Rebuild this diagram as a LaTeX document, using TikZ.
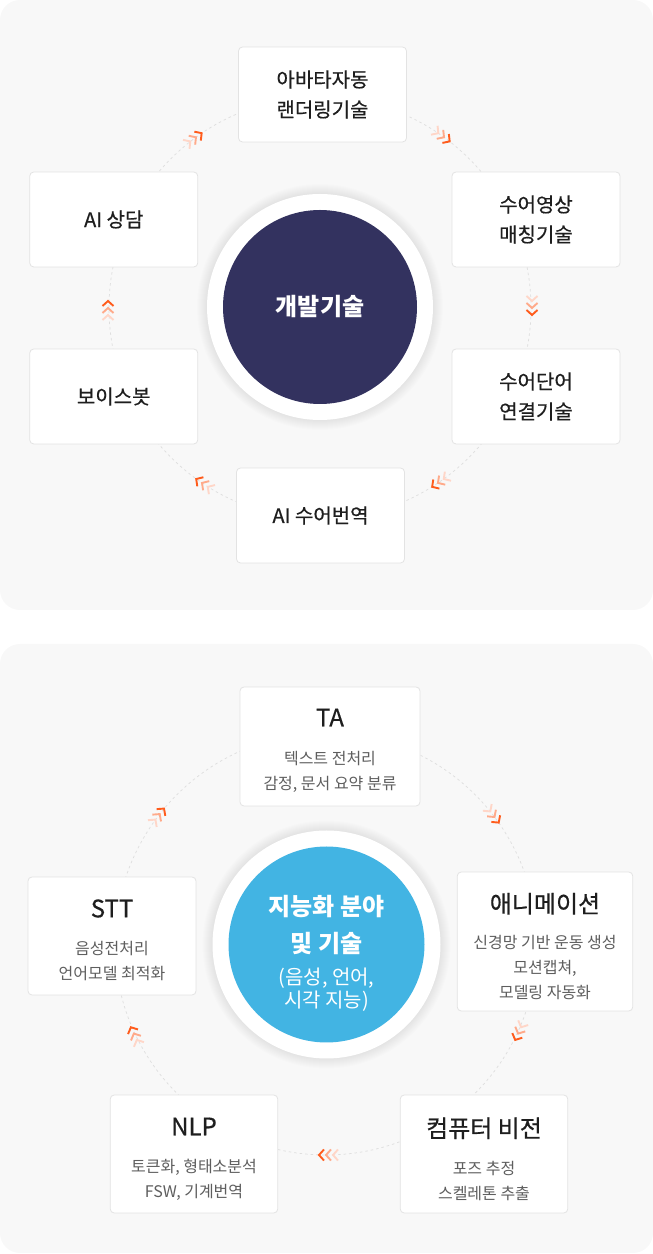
\documentclass[tikz,border=0pt]{standalone}
\usepackage{fontspec}
\newfontfamily\krfont{Noto Sans CJK KR}
\newfontfamily\krmed{Noto Sans CJK KR}[FakeBold=0.5]
\usetikzlibrary{calc}

\definecolor{panelgray}{HTML}{F8F8F8}
\definecolor{cardline}{HTML}{E3E3E3}
\definecolor{navyhub}{HTML}{33325F}
\definecolor{skyhub}{HTML}{42B4E3}
\definecolor{inkdark}{HTML}{1E1E1E}
\definecolor{inkgray}{HTML}{5E5E5E}
\definecolor{ringline}{HTML}{DEDEDE}
\definecolor{chevA}{HTML}{FF5C1C}
\definecolor{chevB}{HTML}{FFAA8A}
\definecolor{chevC}{HTML}{FFD6C8}

\tikzset{
  panel/.style={fill=panelgray, rounded corners=20pt},
  card/.style={draw=cardline, fill=white, rounded corners=4pt, line width=0.8pt, inner sep=0pt},
  cardtop/.style={card, align=center, minimum width=168pt, minimum height=95pt, text=inkdark, font=\krmed\fontsize{20}{30}\selectfont},
  cardtext/.style={align=center, inner sep=0pt, text=inkgray, font=\krfont\fontsize{16}{25}\selectfont},
  ring/.style={draw=ringline, line width=0.7pt, dash pattern=on 2.5pt off 3pt},
  hubring/.style={circle, fill=white, inner sep=0pt},
  hub/.style={circle, inner sep=0pt, align=center, text=white},
  chev/.style={line width=1.9pt, line join=miter}
}
\newcommand{\cardhead}{\krmed\fontsize{24}{28}\selectfont\color{inkdark}}
% three chevrons on the ring: centre, angle, radius (clockwise)
\newcommand{\chevrons}[3]{%
  \begin{scope}[shift={($(#1)+(#2:#3)$)}, rotate={#2-90}]
    \draw[chev, chevC] (-12,5.5) -- (-7,0) -- (-12,-5.5);
    \draw[chev, chevB] (-5,5.5) -- (0,0) -- (-5,-5.5);
    \draw[chev, chevA] (2,5.5) -- (7,0) -- (2,-5.5);
  \end{scope}}

\begin{document}
\begin{tikzpicture}[x=1pt, y=1pt]
  \useasboundingbox (0,0) rectangle (653,1254);

  %%%%% TOP PANEL %%%%%
  \fill[panel] (0,644) rectangle (653,1254);
  \coordinate (topc) at (320,946);
  \draw[ring] (topc) circle (211);

  \foreach \k in {1,...,10} \fill[black, opacity=0.008] (320,947) circle (113+\k);
  \node[hubring, minimum size=226pt] (devring) at (320,947) {};
  \node[hub, fill=navyhub, minimum size=194pt, font=\krfont\bfseries\fontsize{24}{28}\selectfont] (devhub) at (320,947) {개발기술};

  \node[cardtop] (avatar) at (322.5,1159.5) {아바타자동\\랜더링기술};
  \node[cardtop] (video) at (536,1034.5) {수어영상\\매칭기술};
  \node[cardtop] (word) at (536,857.5) {수어단어\\연결기술};
  \node[cardtop] (trans) at (320.5,738.5) {AI 수어번역};
  \node[cardtop] (voice) at (113.75,857.5) {보이스봇};
  \node[cardtop] (consult) at (113.75,1034.5) {AI 상담};

  \chevrons{topc}{126}{211}
  \chevrons{topc}{54}{211}
  \chevrons{topc}{0}{212}
  \chevrons{topc}{-56}{211}
  \chevrons{topc}{236}{211}
  \chevrons{topc}{180}{212}

  %%%%% BOTTOM PANEL %%%%%
  \fill[panel] (0,1) rectangle (653,610);
  \coordinate (botc) at (326,310);
  \draw[ring] (botc) circle (211);

  \foreach \k in {1,...,10} \fill[black, opacity=0.008] (326.5,309.5) circle (114+\k);
  \node[hubring, minimum size=228pt] (airing) at (326.5,309.5) {};
  \node[hub, fill=skyhub, minimum size=196pt] (aihub) at (326.5,309.5) {};
  \node[hub, font=\krfont\fontsize{20}{23}\selectfont] (aitext) at ([yshift=-9pt]aihub.center)
    {{\bfseries\fontsize{24}{28}\selectfont 지능화 분야}\\[14pt]{\bfseries\fontsize{24}{28}\selectfont 및 기술}\\[9pt](음성, 언어,\\시각 지능)};

  \node[card, minimum width=180pt, minimum height=119pt] (ta) at (330,507.5) {};
  \node[cardtext] (tatext) at ([yshift=-4pt]ta.center)
    {{\cardhead TA}\\[13pt]텍스트 전처리\\감정, 문서 요약 분류};
  \node[card, minimum width=175.5pt, minimum height=139pt] (anim) at (545,312.5) {};
  \node[cardtext] (animtext) at ([yshift=-5pt]anim.center)
    {{\cardhead 애니메이션}\\[11pt]신경망 기반 운동 생성\\모션캡쳐,\\모델링 자동화};
  \node[card, minimum width=167.5pt, minimum height=118pt] (vision) at (484,100) {};
  \node[cardtext] (visiontext) at ([yshift=-5pt]vision.center)
    {{\cardhead 컴퓨터 비전}\\[12pt]포즈 추정\\스켈레톤 추출};
  \node[card, minimum width=167.5pt, minimum height=118pt] (nlp) at (194,100) {};
  \node[cardtext] (nlptext) at ([yshift=-5pt]nlp.center)
    {{\cardhead NLP}\\[12pt]토큰화, 형태소분석\\FSW, 기계번역};
  \node[card, minimum width=168pt, minimum height=118pt] (stt) at (112,318) {};
  \node[cardtext] (stttext) at ([yshift=-4pt]stt.center)
    {{\cardhead STT}\\[12pt]음성전처리\\언어모델 최적화};

  \chevrons{botc}{142}{211}
  \chevrons{botc}{37}{211}
  \chevrons{botc}{-25}{212}
  \chevrons{botc}{-90}{211}
  \chevrons{botc}{205}{212}
\end{tikzpicture}
\end{document}
